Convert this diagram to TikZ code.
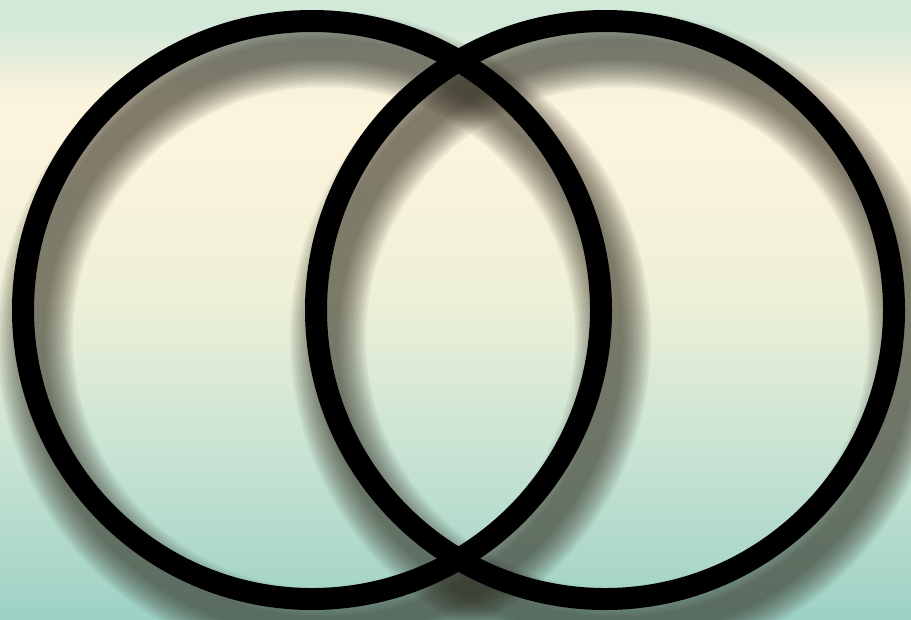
\documentclass[tikz,border=0pt]{standalone}
\usetikzlibrary{calc}
\definecolor{bgmint}{HTML}{D2E9DA}
\definecolor{bgcream}{HTML}{FCF3DC}
\definecolor{bgpale}{HTML}{EDF0D7}
\definecolor{bgsea}{HTML}{C9E4D4}
\definecolor{bgteal}{HTML}{9DD1C5}
\definecolor{shade}{HTML}{2E2A1E}
\pgfdeclareverticalshading{bgshade}{100bp}{color(0bp)=(bgteal); color(25bp)=(bgteal);
  color(38.7bp)=(bgsea); color(50.8bp)=(bgpale); color(62.9bp)=(bgcream);
  color(67bp)=(bgcream); color(73bp)=(bgmint); color(100bp)=(bgmint)}
\tikzset{
  ring/.style={draw=black, line width=0.44cm},
  shadowring/.style={draw=shade, opacity=0.055}}

\begin{document}
\begin{tikzpicture}[x=0.02cm, y=-0.02cm]
  \fill[shading=bgshade] (0,0) rectangle (911,619);
  \useasboundingbox (0,0) rectangle (911,619);
  \coordinate (lc) at (312,310);
  \coordinate (rc) at (605,310);
  \coordinate (lsh) at ($(lc)+(12,28)$);
  \coordinate (rsh) at ($(rc)+(12,28)$);
  % soft shadows
  \foreach \w in {76,72,...,20} {
    \draw[shadowring, line width=\w*0.02cm] (lsh) circle[radius=289];
    \draw[shadowring, line width=\w*0.02cm] (rsh) circle[radius=289];
  }
  % rings
  \draw[ring] (lc) circle[radius=289];
  \draw[ring] (rc) circle[radius=289];
\end{tikzpicture}
\end{document}
